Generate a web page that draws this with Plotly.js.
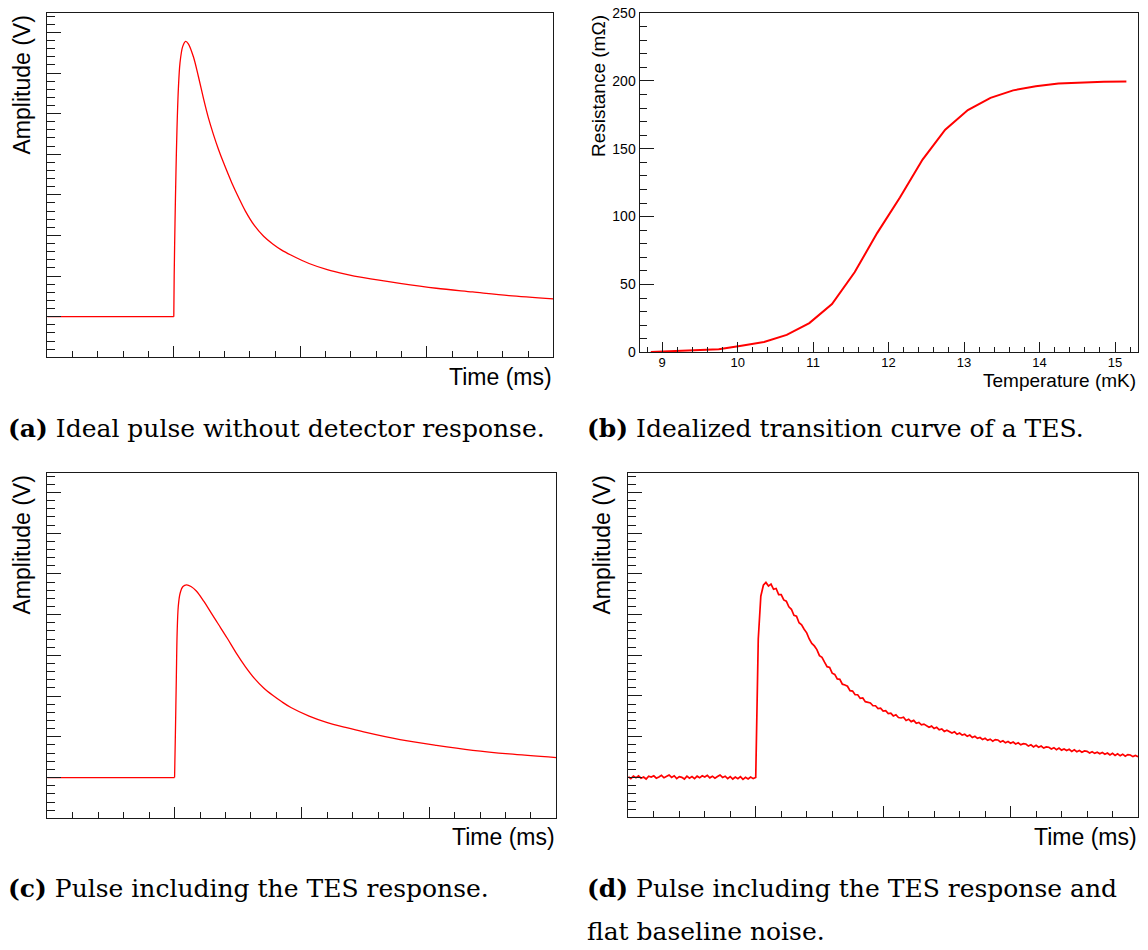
<!DOCTYPE html>
<html>
<head>
<meta charset="utf-8">
<script src="https://cdn.plot.ly/plotly-3.0.1.min.js"></script>
<style>
  html, body { margin: 0; padding: 0; background: #ffffff; }
  #chart { width: 1148px; height: 950px; }
</style>
</head>
<body>
<div id="chart"></div>
<script>
// ---------- (a) Ideal pulse without detector response ----------
const aTime = [0, 1.0, 1.003, 1.0095, 1.0174, 1.025, 1.036, 1.049, 1.07, 1.094, 1.115, 1.155, 1.194, 1.234, 1.273, 1.313, 1.352, 1.392, 1.458, 1.516, 1.566, 1.638, 1.71, 1.782, 1.853, 1.925, 2.069, 2.213, 2.356, 2.5, 2.787, 3.075, 3.362, 3.649, 4.0];
const aAmp  = [0, 0, 1.0, 2.3, 3.6, 4.6, 5.6, 6.25, 6.65, 6.78, 6.72, 6.40, 5.92, 5.38, 4.90, 4.49, 4.13, 3.80, 3.30, 2.91, 2.60, 2.24, 1.98, 1.79, 1.64, 1.52, 1.31, 1.16, 1.05, 0.96, 0.82, 0.70, 0.61, 0.52, 0.44];

// ---------- (b) Idealized transition curve of a TES ----------
const bTemp = [8.85, 9.15, 9.45, 9.75, 10.05, 10.35, 10.65, 10.95, 11.25, 11.55, 11.85, 12.15, 12.45, 12.75, 13.05, 13.35, 13.65, 13.95, 14.25, 14.55, 14.85, 15.15];
const bRes  = [0.3, 0.8, 1.4, 2.3, 4.8, 7.6, 12.8, 21.5, 35.5, 59, 88, 114, 142, 164, 178.5, 187.5, 193, 196, 198, 198.8, 199.3, 199.5];

// ---------- (c) Pulse including the TES response ----------
const cTime = [0, 1.0, 1.006, 1.014, 1.02, 1.029, 1.043, 1.066, 1.094, 1.129, 1.171, 1.229, 1.286, 1.343, 1.414, 1.486, 1.557, 1.629, 1.7, 1.771, 1.843, 1.914, 2.057, 2.2, 2.343, 2.486, 2.771, 3.057, 3.343, 3.629, 4.0];
const cAmp  = [0, 0, 1.0, 2.48, 3.54, 4.2, 4.52, 4.69, 4.73, 4.69, 4.58, 4.33, 4.05, 3.77, 3.42, 3.05, 2.72, 2.43, 2.20, 2.02, 1.86, 1.72, 1.51, 1.35, 1.23, 1.12, 0.93, 0.79, 0.67, 0.58, 0.49];

// ---------- (d) Pulse with TES response and flat baseline noise (samples every 0.02) ----------
const dStart = 0;
const dStep = 0.02;
const dAmp = [
  0.02,-0.03,0.03,-0.01,0.04,-0.02,0.01,-0.04,0.03,0.01,
  0.04,-0.02,0.01,0.05,-0.01,0.03,0.06,0.00,0.04,-0.03,
  0.02,0.00,-0.04,0.03,-0.02,0.02,-0.03,0.03,-0.01,0.04,
  0.01,0.05,-0.01,0.03,-0.02,0.02,0.06,0.00,0.03,-0.03,
  0.02,-0.04,0.01,-0.03,0.02,-0.05,0.00,-0.04,0.01,-0.03,
  0.00,3.40,4.45,4.72,4.79,4.70,4.75,4.62,4.64,4.49,
  4.49,4.36,4.33,4.19,4.13,3.98,3.96,3.80,3.75,3.64,
  3.55,3.40,3.29,3.23,3.14,2.99,2.95,2.83,2.72,2.70,
  2.56,2.53,2.42,2.41,2.29,2.27,2.24,2.13,2.12,2.03,
  2.03,1.94,1.95,1.86,1.85,1.83,1.76,1.76,1.69,1.70,
  1.63,1.64,1.57,1.58,1.51,1.54,1.47,1.46,1.48,1.40,
  1.43,1.37,1.40,1.33,1.35,1.29,1.31,1.28,1.23,1.26,
  1.20,1.23,1.17,1.19,1.13,1.16,1.12,1.09,1.12,1.06,
  1.09,1.04,1.06,1.01,1.04,0.98,1.01,0.96,0.98,0.93,
  0.96,0.91,0.94,0.89,0.93,0.92,0.87,0.90,0.85,0.88,
  0.84,0.87,0.82,0.85,0.80,0.83,0.82,0.77,0.80,0.75,
  0.79,0.74,0.77,0.72,0.75,0.74,0.70,0.73,0.68,0.72,
  0.67,0.70,0.66,0.69,0.64,0.68,0.63,0.66,0.62,0.65,
  0.64,0.60,0.63,0.59,0.62,0.58,0.61,0.57,0.60,0.55,
  0.59,0.54,0.58,0.53,0.57,0.52,0.56,0.55,0.51,0.54,
  0.51
];

// ---------- text ----------
const ampTitle = 'Amplitude (V)';
const timeTitle = 'Time (ms)';
const tempTitle = 'Temperature (mK)';
const resTitle = 'Resistance (mΩ)';
const captions = [
  '<b>(a)</b> Ideal pulse without detector response.',
  '<b>(b)</b> Idealized transition curve of a TES.',
  '<b>(c)</b> Pulse including the TES response.',
  '<b>(d)</b> Pulse including the TES response and',
  'flat baseline noise.'
];

const W = 1148, H = 950;
const px = v => v / W;
const py = v => (H - v) / H;

const RED = '#ff0000';
const FRAME = '#1a1a1a';
const SANS = 'Liberation Sans, Arial, Helvetica, sans-serif';
const SERIF = 'DejaVu Serif, serif';

function pulseX(domain) {
  return {
    domain: domain, range: [0, 4], tick0: 0, dtick: 1,
    ticks: 'inside', ticklen: 11, tickwidth: 1, tickcolor: FRAME,
    showticklabels: false, showgrid: false, zeroline: false,
    showline: true, mirror: true, linecolor: FRAME, linewidth: 1,
    minor: { dtick: 0.2, tick0: 0, ticks: 'inside', ticklen: 6, tickwidth: 1, tickcolor: FRAME, showgrid: false }
  };
}
function pulseY(domain, range) {
  return {
    domain: domain, range: range, tick0: 0, dtick: 1,
    ticks: 'inside', ticklen: 14, tickwidth: 1, tickcolor: FRAME,
    showticklabels: false, showgrid: false, zeroline: false,
    showline: true, mirror: true, linecolor: FRAME, linewidth: 1,
    minor: { dtick: 0.2, tick0: 0, ticks: 'inside', ticklen: 7.5, tickwidth: 1, tickcolor: FRAME, showgrid: false }
  };
}

const traces = [
  // (a): flat pre-trigger baseline, then the smooth pulse
  { x: aTime.slice(0, 2), y: aAmp.slice(0, 2), xaxis: 'x', yaxis: 'y', type: 'scatter', mode: 'lines',
    line: { color: RED, width: 1.3 }, hoverinfo: 'skip' },
  { x: aTime.slice(1), y: aAmp.slice(1), xaxis: 'x', yaxis: 'y', type: 'scatter', mode: 'lines',
    line: { color: RED, width: 1.3, shape: 'spline', smoothing: 0.9 }, hoverinfo: 'skip' },
  // (b)
  { x: bTemp, y: bRes, xaxis: 'x2', yaxis: 'y2', type: 'scatter', mode: 'lines',
    line: { color: RED, width: 2 }, hoverinfo: 'skip' },
  // (c)
  { x: cTime.slice(0, 2), y: cAmp.slice(0, 2), xaxis: 'x3', yaxis: 'y3', type: 'scatter', mode: 'lines',
    line: { color: RED, width: 1.3 }, hoverinfo: 'skip' },
  { x: cTime.slice(1), y: cAmp.slice(1), xaxis: 'x3', yaxis: 'y3', type: 'scatter', mode: 'lines',
    line: { color: RED, width: 1.3, shape: 'spline', smoothing: 0.9 }, hoverinfo: 'skip' },
  // (d)
  { y: dAmp, x0: dStart, dx: dStep, xaxis: 'x4', yaxis: 'y4', type: 'scatter', mode: 'lines',
    line: { color: RED, width: 1.7 }, hoverinfo: 'skip' }
];

const axisTitleFont = { family: SANS, size: 23, color: '#000' };
const bTitleFont = { family: SANS, size: 19, color: '#000' };
const capFont = { family: SERIF, size: 25, color: '#000' };

const annotations = [
  // axis titles
  { text: ampTitle, xref: 'paper', yref: 'paper', x: px(21), y: py(14), xanchor: 'center', yanchor: 'top', textangle: -90, showarrow: false, font: axisTitleFont },
  { text: timeTitle, xref: 'paper', yref: 'paper', x: px(554), y: py(377), xanchor: 'right', yanchor: 'middle', showarrow: false, font: axisTitleFont },
  { text: resTitle, xref: 'paper', yref: 'paper', x: px(599), y: py(13), xanchor: 'center', yanchor: 'top', textangle: -90, showarrow: false, font: bTitleFont },
  { text: tempTitle, xref: 'paper', yref: 'paper', x: px(1138), y: py(380), xanchor: 'right', yanchor: 'middle', showarrow: false, font: bTitleFont },
  { text: ampTitle, xref: 'paper', yref: 'paper', x: px(21), y: py(474), xanchor: 'center', yanchor: 'top', textangle: -90, showarrow: false, font: axisTitleFont },
  { text: timeTitle, xref: 'paper', yref: 'paper', x: px(557), y: py(837), xanchor: 'right', yanchor: 'middle', showarrow: false, font: axisTitleFont },
  { text: ampTitle, xref: 'paper', yref: 'paper', x: px(601), y: py(474), xanchor: 'center', yanchor: 'top', textangle: -90, showarrow: false, font: axisTitleFont },
  { text: timeTitle, xref: 'paper', yref: 'paper', x: px(1139), y: py(837), xanchor: 'right', yanchor: 'middle', showarrow: false, font: axisTitleFont },
  // captions
  { text: captions[0], xref: 'paper', yref: 'paper', x: px(6), y: py(428), xanchor: 'left', yanchor: 'middle', showarrow: false, font: capFont },
  { text: captions[1], xref: 'paper', yref: 'paper', x: px(585), y: py(428), xanchor: 'left', yanchor: 'middle', showarrow: false, font: capFont },
  { text: captions[2], xref: 'paper', yref: 'paper', x: px(6), y: py(888), xanchor: 'left', yanchor: 'middle', showarrow: false, font: capFont },
  { text: captions[3], xref: 'paper', yref: 'paper', x: px(585), y: py(888), xanchor: 'left', yanchor: 'middle', showarrow: false, font: capFont },
  { text: captions[4], xref: 'paper', yref: 'paper', x: px(585), y: py(931), xanchor: 'left', yanchor: 'middle', showarrow: false, font: capFont }
];

const layout = {
  width: W, height: H,
  margin: { l: 0, r: 0, t: 0, b: 0, pad: 0 },
  paper_bgcolor: '#ffffff', plot_bgcolor: '#ffffff',
  showlegend: false,
  xaxis: Object.assign(pulseX([px(47.3), px(553.3)]), { anchor: 'y' }),
  yaxis: Object.assign(pulseY([py(356.7), py(13.3)], [-0.985, 7.47]), { anchor: 'x' }),
  xaxis2: {
    domain: [px(639.5), px(1137.7)], anchor: 'y2', range: [8.7, 15.3], tick0: 0, dtick: 1,
    ticks: 'inside', ticklen: 10, tickwidth: 1, tickcolor: FRAME,
    showticklabels: true, tickfont: { family: SANS, size: 13, color: '#000' }, ticklabelstandoff: -2,
    showgrid: false, zeroline: false, showline: true, mirror: true, linecolor: FRAME, linewidth: 1,
    minor: { dtick: 0.2, tick0: 0, ticks: 'inside', ticklen: 5, tickwidth: 1, tickcolor: FRAME, showgrid: false }
  },
  yaxis2: {
    domain: [py(352.3), py(13)], anchor: 'x2', range: [0, 250], tick0: 0, dtick: 50,
    ticks: 'inside', ticklen: 14, tickwidth: 1, tickcolor: FRAME,
    showticklabels: true, tickfont: { family: SANS, size: 14, color: '#000' },
    showgrid: false, zeroline: false, showline: true, mirror: true, linecolor: FRAME, linewidth: 1,
    minor: { dtick: 10, tick0: 0, ticks: 'inside', ticklen: 7, tickwidth: 1, tickcolor: FRAME, showgrid: false }
  },
  xaxis3: Object.assign(pulseX([px(47.3), px(556.4)]), { anchor: 'y3' }),
  yaxis3: Object.assign(pulseY([py(818.3), py(473.3)], [-1.0, 7.47]), { anchor: 'x3' }),
  xaxis4: Object.assign(pulseX([px(628.3), px(1138)]), { anchor: 'y4' }),
  yaxis4: Object.assign(pulseY([py(817.3), py(473.3)], [-0.98, 7.47]), { anchor: 'x4' }),
  annotations: annotations
};

Plotly.newPlot('chart', traces, layout, { displayModeBar: false, staticPlot: true });
</script>
</body>
</html>
